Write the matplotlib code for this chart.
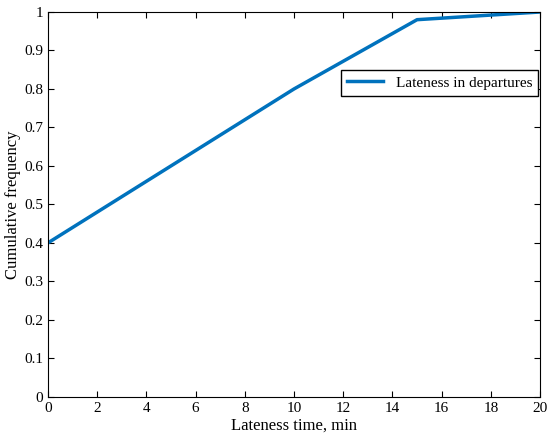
import matplotlib
matplotlib.use("Agg")
import matplotlib.pyplot as plt

# cumulative frequency of lateness in departures
lateness = [0, 10, 15, 20]
cum_freq = [0.4, 0.8, 0.98, 1.0]

plt.rcParams['font.family'] = ['Liberation Serif', 'DejaVu Serif']

fig = plt.figure(figsize=(5.5, 4.44), dpi=100)
ax = fig.add_axes([0.087, 0.106, 0.895, 0.867])
ax.plot(lateness, cum_freq, color='#0072BD', linewidth=2.5, label='Lateness in departures')
ax.set_xlim(0, 20)
ax.set_ylim(0, 1)
ax.set_xticks(range(0, 21, 2))
ax.set_yticks([i / 10 for i in range(11)])
ax.set_yticklabels(['0'] + [f'{i/10:g}' for i in range(1, 10)] + ['1'])
ax.tick_params(direction='in', top=True, right=True, labelsize=11, length=4)
ax.set_xlabel('Lateness time, min', fontsize=12, labelpad=2)
ax.set_ylabel('Cumulative frequency', fontsize=12, labelpad=2)
ax.legend(loc='upper right', bbox_to_anchor=(0.996, 0.85), fontsize=11,
          fancybox=False, edgecolor='black', framealpha=1, borderaxespad=0,
          handlelength=2.4)
fig.savefig('out.png')
